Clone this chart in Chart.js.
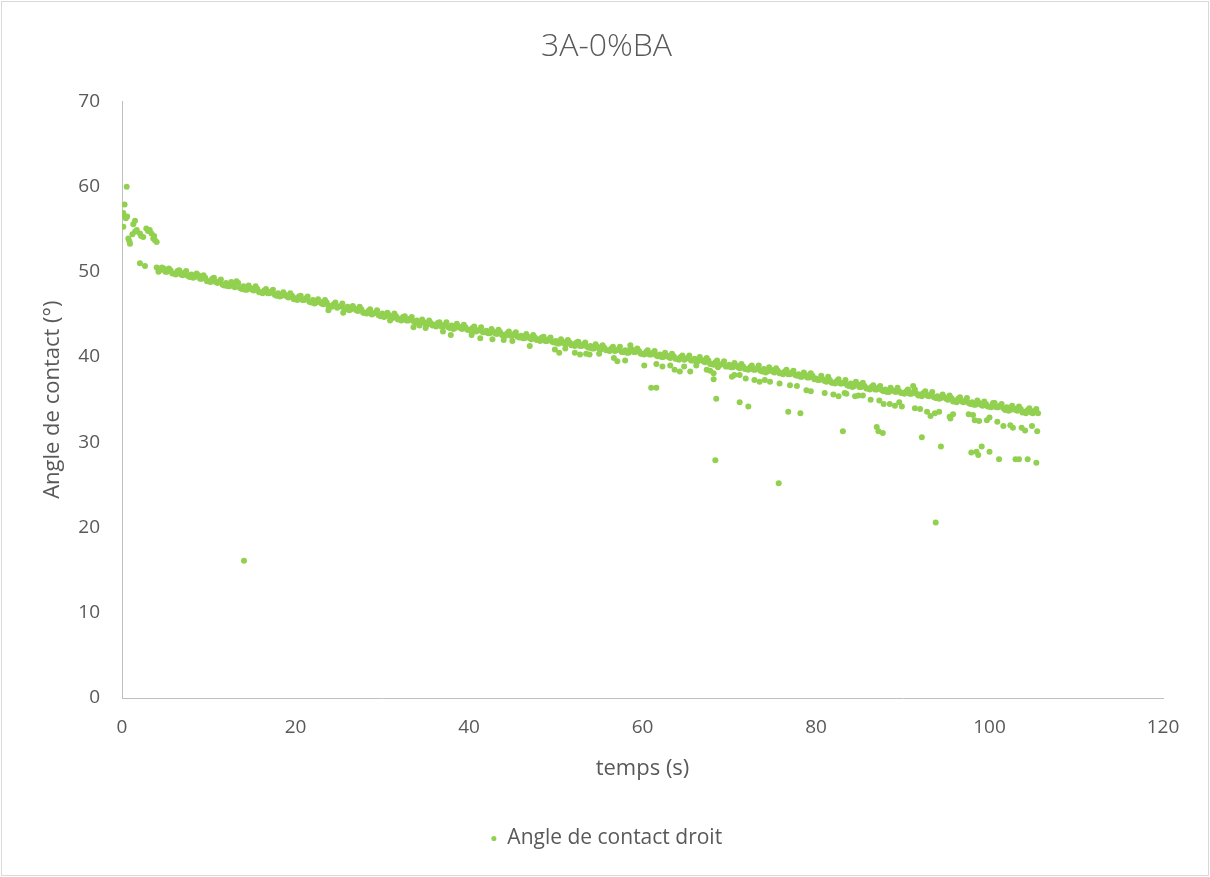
<!DOCTYPE html>
<html>
<head>
<meta charset="utf-8">
<title>3A-0%BA</title>
<script src="https://cdn.jsdelivr.net/npm/chart.js@4.4.1/dist/chart.umd.min.js"></script>
<style>
  html, body { margin: 0; padding: 0; background: #ffffff; }
  #wrap { position: relative; width: 1210px; height: 877px; }
</style>
</head>
<body>
<div id="wrap"><canvas id="chart" width="1210" height="877"></canvas></div>
<script>
// axis ticks
const xTicks = [0, 20, 40, 60, 80, 100, 120];
const yTicks = [0, 10, 20, 30, 40, 50, 60, 70];

// [temps (s), angle (°)]
const startPoints = [
  [0.05, 56.6], [0.15, 56.9], [0.3, 57.9], [0.35, 56.4], [0.45, 56.3], [0.54, 60.0],
  [0.15, 55.3], [0.6, 56.5], [0.73, 53.9], [0.85, 53.6], [0.92, 53.3], [1.2, 54.4],
  [1.3, 55.6], [1.5, 56.0], [1.5, 54.7], [1.7, 54.9], [2.07, 54.5], [2.2, 54.2],
  [2.45, 54.1], [2.8, 55.1], [3.0, 54.8], [3.2, 54.9], [3.4, 54.5], [3.6, 53.9],
  [3.7, 54.2], [3.8, 53.7], [4.0, 53.5], [2.07, 51.0], [2.65, 50.7]
];

// main decreasing band, first pass
const bandPoints = [
  [4.0, 50.5], [4.4, 50.2], [4.8, 50.4], [5.2, 50.0], [5.6, 50.2],
  [6.0, 49.8], [6.4, 50.1], [6.8, 49.7], [7.2, 49.9], [7.6, 49.5],
  [8.0, 49.7], [8.4, 49.4], [8.8, 49.6], [9.2, 49.2], [9.6, 49.3],
  [10.0, 48.9], [10.4, 49.2], [10.8, 48.8], [11.2, 48.9], [11.6, 48.5],
  [12.0, 48.7], [12.4, 48.3], [12.8, 48.5], [13.2, 48.9], [13.6, 48.1],
  [14.0, 48.3], [14.4, 47.9], [14.8, 48.1], [15.2, 47.8], [15.6, 48.0],
  [16.0, 47.6], [16.4, 47.8], [16.8, 47.5], [17.2, 47.7], [17.6, 47.3],
  [18.0, 47.5], [18.4, 47.2], [18.8, 47.3], [19.2, 47.0], [19.6, 47.2],
  [20.0, 46.9], [20.4, 47.1], [20.8, 46.7], [21.2, 46.9], [21.6, 46.5],
  [22.0, 46.7], [22.4, 46.4], [22.8, 46.5], [23.2, 46.2], [23.6, 46.4],
  [24.0, 46.0], [24.4, 46.2], [24.8, 45.8], [25.2, 46.0], [25.6, 45.7],
  [26.0, 45.9], [26.4, 45.6], [26.8, 45.7], [27.2, 45.4], [27.6, 45.6],
  [28.0, 45.2], [28.4, 45.4], [28.8, 45.0], [29.2, 45.2], [29.6, 44.9],
  [30.0, 45.1], [30.4, 44.8], [30.8, 44.9], [31.2, 44.6], [31.6, 44.8],
  [32.0, 44.5], [32.4, 44.7], [32.8, 44.3], [33.2, 44.5], [33.6, 44.2],
  [34.0, 44.3], [34.4, 44.0], [34.8, 44.1], [35.2, 43.8], [35.6, 44.0],
  [36.0, 43.8], [36.4, 44.0], [36.8, 43.6], [37.2, 43.8], [37.6, 43.5],
  [38.0, 43.7], [38.4, 43.4], [38.8, 43.6], [39.2, 43.3], [39.6, 43.5],
  [40.0, 43.2], [40.4, 43.4], [40.8, 43.0], [41.2, 43.2], [41.6, 42.9],
  [42.0, 43.1], [42.4, 42.8], [42.8, 43.0], [43.2, 42.7], [43.6, 42.9],
  [44.0, 42.6], [44.4, 42.8], [44.8, 42.5], [45.2, 42.7], [45.6, 42.4],
  [46.0, 42.5], [46.4, 42.2], [46.8, 42.4], [47.2, 42.1], [47.6, 42.3],
  [48.0, 42.1], [48.4, 42.3], [48.8, 41.9], [49.2, 42.1], [49.6, 41.8],
  [50.0, 41.9], [50.4, 41.6], [50.8, 41.8], [51.2, 41.5], [51.6, 41.7],
  [52.0, 41.5], [52.4, 41.7], [52.8, 41.3], [53.2, 41.5], [53.6, 41.2],
  [54.0, 41.3], [54.4, 41.0], [54.8, 41.2], [55.2, 40.9], [55.6, 41.1],
  [56.0, 40.8], [56.4, 41.0], [56.8, 40.7], [57.2, 40.9], [57.6, 40.6],
  [58.0, 40.8], [58.4, 40.5], [58.8, 40.9], [59.2, 40.6], [59.6, 40.7],
  [60.0, 40.4], [60.4, 40.6], [60.8, 40.3], [61.2, 40.5], [61.6, 40.2],
  [62.0, 40.3], [62.4, 40.0], [62.8, 40.2], [63.2, 39.9], [63.6, 40.1],
  [64.0, 39.8], [64.4, 40.0], [64.8, 39.7], [65.2, 39.9], [65.6, 39.6],
  [66.0, 39.8], [66.4, 39.5], [66.8, 39.7], [67.2, 39.4], [67.6, 39.6],
  [68.0, 39.2], [68.4, 39.4], [68.8, 39.0], [69.2, 39.2], [69.6, 38.9],
  [70.0, 39.1], [70.4, 38.8], [70.8, 39.0], [71.2, 38.7], [71.6, 38.9],
  [72.0, 38.6], [72.4, 38.8], [72.8, 38.5], [73.2, 38.7], [73.6, 38.4],
  [74.0, 38.6], [74.4, 38.3], [74.8, 38.5], [75.2, 38.2], [75.6, 38.4],
  [76.0, 38.1], [76.4, 38.3], [76.8, 38.0], [77.2, 38.2], [77.6, 37.9],
  [78.0, 38.0], [78.4, 37.7], [78.8, 37.9], [79.2, 37.6], [79.6, 37.8],
  [80.0, 37.5], [80.4, 37.3], [80.8, 37.4], [81.2, 37.1], [81.6, 37.3],
  [82.0, 37.0], [82.4, 37.2], [82.8, 36.9], [83.2, 37.0], [83.6, 36.7],
  [84.0, 36.9], [84.4, 36.6], [84.8, 36.8], [85.2, 36.5], [85.6, 36.6],
  [86.0, 36.3], [86.4, 36.5], [86.8, 36.2], [87.2, 36.4], [87.6, 36.1],
  [88.0, 36.2], [88.4, 35.9], [88.8, 36.1], [89.2, 35.9], [89.6, 36.0],
  [90.0, 35.8], [90.4, 36.0], [90.8, 35.7], [91.2, 35.9], [91.6, 35.7],
  [92.0, 35.6], [92.4, 35.8], [92.8, 35.5], [93.2, 35.6], [93.6, 35.3],
  [94.0, 35.4], [94.4, 35.2], [94.8, 35.3], [95.2, 35.0], [95.6, 35.2],
  [96.0, 34.9], [96.4, 35.1], [96.8, 34.8], [97.2, 34.9], [97.6, 34.6],
  [98.0, 34.7], [98.4, 34.4], [98.8, 34.6], [99.2, 34.3], [99.6, 34.5],
  [100.0, 34.2], [100.4, 34.6], [100.8, 34.1], [101.2, 34.3], [101.6, 34.0],
  [102.0, 34.1], [102.4, 33.8], [102.8, 34.0], [103.2, 33.7], [103.6, 33.9],
  [104.0, 33.6], [104.4, 33.8], [104.8, 33.5], [105.2, 33.7], [105.6, 33.4]
];

// main band, in-between readings
const bandPoints2 = [
  [4.2, 50.0], [4.6, 50.5], [5.0, 50.0], [5.4, 50.4], [5.8, 49.8],
  [6.2, 49.7], [6.6, 50.2], [7.0, 49.6], [7.4, 50.1], [7.8, 49.4],
  [8.2, 49.3], [8.6, 49.8], [9.0, 49.2], [9.4, 49.6], [9.8, 48.9],
  [10.2, 48.8], [10.6, 49.3], [11.0, 48.7], [11.4, 49.1], [11.8, 48.4],
  [12.2, 48.3], [12.6, 48.8], [13.0, 48.2], [13.4, 48.7], [13.8, 48.0],
  [14.2, 47.9], [14.6, 48.4], [15.0, 47.9], [15.4, 48.3], [15.8, 47.6],
  [16.2, 47.5], [16.6, 48.0], [17.0, 47.5], [17.4, 47.9], [17.8, 47.2],
  [18.2, 47.1], [18.6, 47.6], [19.0, 47.1], [19.4, 47.5], [19.8, 46.8],
  [20.2, 46.7], [20.6, 47.2], [21.0, 46.7], [21.4, 47.1], [21.8, 46.4],
  [22.2, 46.3], [22.6, 46.8], [23.0, 46.3], [23.4, 46.7], [23.8, 46.0],
  [24.2, 45.9], [24.6, 46.4], [25.0, 45.9], [25.4, 46.3], [25.8, 45.6],
  [26.2, 45.5], [26.6, 46.0], [27.0, 45.5], [27.4, 45.9], [27.8, 45.2],
  [28.2, 45.1], [28.6, 45.6], [29.0, 45.1], [29.4, 45.5], [29.8, 44.8],
  [30.2, 44.7], [30.6, 45.2], [31.0, 44.7], [31.4, 45.1], [31.8, 44.4],
  [32.2, 44.3], [32.6, 44.8], [33.0, 44.3], [33.4, 44.7], [33.8, 44.0],
  [34.2, 43.9], [34.6, 44.4], [35.0, 43.9], [35.4, 44.3], [35.8, 43.7],
  [36.2, 43.6], [36.6, 44.1], [37.0, 43.6], [37.4, 44.1], [37.8, 43.4],
  [38.2, 43.3], [38.6, 43.9], [39.0, 43.4], [39.4, 43.8], [39.8, 43.2],
  [40.2, 43.1], [40.6, 43.6], [41.0, 43.1], [41.4, 43.5], [41.8, 42.9],
  [42.2, 42.8], [42.6, 43.3], [43.0, 42.8], [43.4, 43.2], [43.8, 42.6],
  [44.2, 42.5], [44.6, 43.0], [45.0, 42.5], [45.4, 42.9], [45.8, 42.3],
  [46.2, 42.2], [46.6, 42.7], [47.0, 42.2], [47.4, 42.6], [47.8, 42.0],
  [48.2, 41.9], [48.6, 42.4], [49.0, 41.9], [49.4, 42.3], [49.8, 41.7],
  [50.2, 41.6], [50.6, 42.1], [51.0, 41.6], [51.4, 42.0], [51.8, 41.4],
  [52.2, 41.3], [52.6, 41.8], [53.0, 41.3], [53.4, 41.7], [53.8, 41.1],
  [54.2, 41.0], [54.6, 41.5], [55.0, 41.0], [55.4, 41.4], [55.8, 40.8],
  [56.2, 40.7], [56.6, 41.2], [57.0, 40.8], [57.4, 41.2], [57.8, 40.6],
  [58.2, 40.5], [58.6, 41.0], [59.0, 40.6], [59.4, 41.0], [59.8, 40.4],
  [60.2, 40.3], [60.6, 40.8], [61.0, 40.3], [61.4, 40.7], [61.8, 40.1],
  [62.2, 40.0], [62.6, 40.5], [63.0, 40.0], [63.4, 40.4], [63.8, 39.8],
  [64.2, 39.7], [64.6, 40.2], [65.0, 39.8], [65.4, 40.2], [65.8, 39.6],
  [66.2, 39.5], [66.6, 40.0], [67.0, 39.5], [67.4, 39.9], [67.8, 39.2],
  [68.2, 39.1], [68.6, 39.6], [69.0, 39.1], [69.4, 39.5], [69.8, 38.9],
  [70.2, 38.8], [70.6, 39.3], [71.0, 38.8], [71.4, 39.2], [71.8, 38.6],
  [72.2, 38.5], [72.6, 39.0], [73.0, 38.5], [73.4, 39.0], [73.8, 38.3],
  [74.2, 38.2], [74.6, 38.8], [75.0, 38.3], [75.4, 38.7], [75.8, 38.1],
  [76.2, 38.0], [76.6, 38.5], [77.0, 38.0], [77.4, 38.4], [77.8, 37.8],
  [78.2, 37.7], [78.6, 38.2], [79.0, 37.6], [79.4, 38.1], [79.8, 37.4],
  [80.2, 37.3], [80.6, 37.8], [81.0, 37.2], [81.4, 37.7], [81.8, 37.0],
  [82.2, 36.9], [82.6, 37.4], [83.0, 36.9], [83.4, 37.3], [83.8, 36.6],
  [84.2, 36.5], [84.6, 37.1], [85.0, 36.5], [85.4, 37.0], [85.8, 36.3],
  [86.2, 36.2], [86.6, 36.7], [87.0, 36.2], [87.4, 36.6], [87.8, 36.0],
  [88.2, 35.9], [88.6, 36.4], [89.0, 36.0], [89.4, 36.4], [89.8, 35.8],
  [90.2, 35.7], [90.6, 36.2], [91.0, 35.7], [91.4, 36.2], [91.8, 35.5],
  [92.2, 35.4], [92.6, 36.0], [93.0, 35.4], [93.4, 35.9], [93.8, 35.2],
  [94.2, 35.1], [94.6, 35.6], [95.0, 35.1], [95.4, 35.5], [95.8, 34.8],
  [96.2, 34.7], [96.6, 35.3], [97.0, 34.7], [97.4, 35.2], [97.8, 34.5],
  [98.2, 34.4], [98.6, 34.9], [99.0, 34.4], [99.4, 34.8], [99.8, 34.2],
  [100.2, 34.1], [100.6, 34.6], [101.0, 34.1], [101.4, 34.5], [101.8, 33.8],
  [102.2, 33.7], [102.6, 34.3], [103.0, 33.8], [103.4, 34.2], [103.8, 33.5],
  [104.2, 33.4], [104.6, 34.0], [105.0, 33.4], [105.4, 33.9]
];

const lowerPoints = [
  [23.8, 45.5], [25.5, 45.2], [30.9, 44.3], [33.6, 43.5], [34.3, 43.7], [35.0, 43.4],
  [37.0, 43.0], [37.9, 42.6], [40.3, 42.6], [41.3, 42.2], [42.7, 42.1], [44.0, 42.0],
  [45.0, 41.9], [47.0, 41.3], [49.9, 40.9], [50.4, 40.5], [51.1, 41.0], [52.2, 40.5],
  [52.8, 40.3], [53.5, 40.4], [53.9, 40.3], [55.0, 40.4], [56.7, 39.9], [57.1, 39.5],
  [58.0, 39.6], [60.2, 39.0], [61.6, 39.2], [62.3, 38.9], [63.2, 39.0], [63.7, 38.5],
  [64.3, 38.3], [64.8, 38.9], [65.5, 38.3], [66.2, 39.0], [67.4, 38.5], [67.8, 38.4],
  [68.2, 38.1], [68.2, 37.4], [68.7, 38.8], [70.3, 37.7], [70.6, 37.9], [71.2, 37.9],
  [71.9, 37.5], [72.9, 37.3], [73.5, 37.1], [74.1, 37.3], [74.7, 37.1], [75.8, 36.9],
  [77.0, 36.7], [77.8, 36.6], [78.9, 36.1], [79.4, 36.0], [81.0, 35.8], [82.0, 35.6],
  [82.6, 35.4], [83.3, 35.8], [83.5, 35.7], [84.5, 35.4], [84.9, 35.5], [85.4, 35.5],
  [86.3, 35.0], [87.3, 34.9], [87.8, 34.5], [88.5, 34.5], [89.1, 34.3], [89.6, 34.7],
  [89.9, 34.2], [91.4, 34.0], [92.0, 33.9], [92.8, 33.6], [93.2, 33.1], [93.7, 33.4],
  [94.2, 33.6], [95.4, 33.0], [95.8, 33.3], [95.5, 32.8], [97.6, 33.3], [98.1, 33.2],
  [98.3, 32.6], [98.8, 32.5], [99.7, 32.6], [100.0, 32.9], [100.9, 32.4], [101.6, 31.9],
  [102.4, 32.0], [102.7, 31.7], [103.7, 31.7], [104.1, 31.4], [104.9, 31.9], [105.5, 31.3]
];

const outlierPoints = [
  [14.06, 16.1], [58.6, 41.4], [61.0, 36.4], [61.6, 36.4], [68.4, 27.9], [68.5, 35.1],
  [71.2, 34.7], [72.2, 34.2], [75.7, 25.2], [76.8, 33.6], [78.2, 33.4], [83.1, 31.3],
  [87.0, 31.8], [87.2, 31.3], [87.7, 31.1], [91.2, 36.6], [92.2, 30.6], [93.8, 20.6],
  [94.4, 29.5], [97.9, 28.8], [98.5, 28.9], [98.7, 28.5], [99.1, 29.5], [100.0, 28.9],
  [101.1, 28.0], [103.0, 28.0], [103.4, 28.0], [104.4, 28.0], [105.4, 27.6]
];

const green = '#92D050';
const textGrey = '#595959';
const fontFamily = "'Open Sans', 'Liberation Sans', sans-serif";

const allPoints = [...startPoints, ...bandPoints, ...bandPoints2, ...lowerPoints, ...outlierPoints]
  .map(p => ({ x: p[0], y: p[1] }));

// thin frame around the whole chart, like the Excel chart border
const framePlugin = {
  id: 'frame',
  afterDraw(chart) {
    const c = chart.ctx;
    c.save();
    c.strokeStyle = '#D9D9D9';
    c.lineWidth = 1;
    c.strokeRect(1.5, 1.5, chart.width - 3, chart.height - 3);
    c.restore();
  }
};

new Chart(document.getElementById('chart'), {
  type: 'scatter',
  data: {
    datasets: [{
      label: 'Angle de contact droit',
      data: allPoints,
      backgroundColor: green,
      borderColor: green,
      borderWidth: 0,
      pointRadius: 3,
      pointHoverRadius: 3
    }]
  },
  options: {
    responsive: false,
    animation: false,
    layout: { padding: { top: 0, left: 50, right: 47, bottom: 18 } },
    plugins: {
      title: {
        display: true,
        text: '3A-0%BA',
        color: textGrey,
        font: { family: fontFamily, size: 32, weight: '300' },
        padding: { top: 28, bottom: 35 }
      },
      legend: {
        position: 'bottom',
        labels: {
          color: textGrey,
          font: { family: fontFamily, size: 21 },
          usePointStyle: true,
          pointStyle: 'circle',
          boxWidth: 6,
          boxHeight: 3.6,
          padding: 10
        }
      },
      tooltip: { enabled: false }
    },
    scales: {
      x: {
        type: 'linear',
        min: 0,
        max: 120,
        afterBuildTicks: axis => { axis.ticks = xTicks.map(v => ({ value: v })); },
        afterFit: axis => { axis.height = 120; },
        grid: { display: false, drawTicks: false },
        border: { display: true, color: '#BFBFBF', width: 1 },
        ticks: {
          color: textGrey,
          font: { family: fontFamily, size: 19 },
          padding: 18,
          maxRotation: 0
        },
        title: {
          display: true,
          text: 'temps (s)',
          color: textGrey,
          font: { family: fontFamily, size: 22 },
          padding: { top: 0, bottom: 36 }
        }
      },
      y: {
        type: 'linear',
        min: 0,
        max: 70,
        afterBuildTicks: axis => { axis.ticks = yTicks.map(v => ({ value: v })); },
        afterFit: axis => { axis.width = 72; },
        grid: { display: false, drawTicks: false },
        border: { display: true, color: '#BFBFBF', width: 1 },
        ticks: {
          color: textGrey,
          font: { family: fontFamily, size: 19 },
          padding: 22
        },
        title: {
          display: true,
          text: 'Angle de contact (°)',
          color: textGrey,
          font: { family: fontFamily, size: 22 },
          padding: { top: -10.2, bottom: 0 }
        }
      }
    }
  },
  plugins: [framePlugin]
});
</script>
</body>
</html>
